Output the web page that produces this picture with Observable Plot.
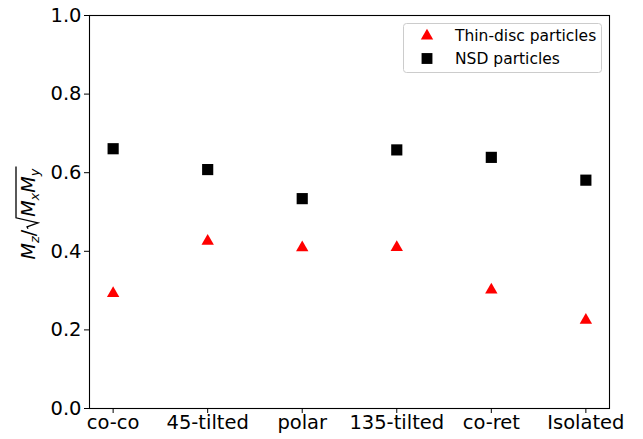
<!DOCTYPE html>
<html>
<head>
<meta charset="utf-8">
<script src="https://cdn.jsdelivr.net/npm/d3@7"></script>
<script src="https://cdn.jsdelivr.net/npm/@observablehq/plot@0.6"></script>
<style>
  html, body { margin: 0; padding: 0; background: white; }
  #wrap { position: relative; width: 643px; height: 439px; }
</style>
</head>
<body>
<div id="wrap"></div>
<script>
const categories = ["co-co", "45-tilted", "polar", "135-tilted", "co-ret", "Isolated"];
const thinDisc = [0.293, 0.426, 0.409, 0.410, 0.302, 0.225];
const nsd = [0.661, 0.608, 0.534, 0.658, 0.639, 0.581];
const yTicks = [0, 0.2, 0.4, 0.6, 0.8, 1.0];
const seriesNames = ["Thin-disc particles", "NSD particles"];

const thinData = categories.map((c, i) => ({cat: c, v: thinDisc[i]}));
const nsdData = categories.map((c, i) => ({cat: c, v: nsd[i]}));

const plot = Plot.plot({
  width: 643,
  height: 439,
  marginLeft: 89,
  marginRight: 34,
  marginTop: 15,
  marginBottom: 31,
  style: {fontFamily: "DejaVu Sans, sans-serif", fontSize: "19.5px", color: "black", background: "white"},
  x: {type: "point", domain: categories, padding: 0.25, round: false, label: null, tickSize: 5, tickPadding: 2},
  y: {domain: [0, 1], ticks: yTicks, tickFormat: ".1f", label: null, tickSize: 5, tickPadding: 3},
  marks: [
    Plot.frame({stroke: "black", strokeWidth: 1.1}),
    Plot.dot(thinData, {x: "cat", y: "v", symbol: "triangle", fill: "red", r: 4.6}),
    Plot.dot(nsdData, {x: "cat", y: "v", symbol: "square", fill: "black", r: 6.3})
  ]
});
const wrap = document.getElementById("wrap");
wrap.appendChild(plot);
const svg = d3.select(plot);

// y-axis label: M_z / sqrt(M_x M_y)
const fs = 19;
const g = svg.append("g").attr("transform", "translate(35,213) rotate(-90)")
  .attr("font-family", "DejaVu Sans, sans-serif").attr("font-size", fs).attr("fill", "black")
  .attr("text-anchor", "start");
const t1 = g.append("text").attr("y", 0);
t1.append("tspan").attr("font-style", "italic").text("M");
t1.append("tspan").attr("font-style", "italic").attr("font-size", 13).attr("dy", 4).text("z");
t1.append("tspan").attr("dy", -4).text("/");
const t2 = g.append("text").attr("y", 0);
t2.append("tspan").attr("font-style", "italic").text("M");
t2.append("tspan").attr("font-style", "italic").attr("font-size", 13).attr("dy", 4).text("x");
t2.append("tspan").attr("font-style", "italic").attr("dy", -4).text("M");
t2.append("tspan").attr("font-style", "italic").attr("font-size", 13).attr("dy", 4).text("y");
const w1 = t1.node().getComputedTextLength();
const wr = 13;
const w2 = t2.node().getComputedTextLength() + 2;
const total = w1 + wr + w2;
const x0 = -total / 2;
t1.attr("x", x0);
t2.attr("x", x0 + w1 + wr);
const ra = x0 + w1 + 1;
g.append("path")
  .attr("d", `M${ra},${-7} L${ra + 2},${-8} L${ra + 6},${3} L${ra + 11},${-fs} L${x0 + total},${-fs}`)
  .attr("fill", "none").attr("stroke", "black").attr("stroke-width", 1.3);

// legend inside the SVG
const lg = svg.append("g").attr("font-family", "DejaVu Sans, sans-serif").attr("font-size", 15.5)
  .attr("fill", "black").attr("text-anchor", "start");
lg.append("rect").attr("x", 403.5).attr("y", 23.5).attr("width", 198).attr("height", 49).attr("rx", 3)
  .attr("fill", "white").attr("fill-opacity", 0.8).attr("stroke", "#cccccc");
const symTri = d3.symbol(d3.symbolTriangle, 66)();
const symSq = d3.symbol(d3.symbolSquare, 118)();
const rows = [
  {name: seriesNames[0], cy: 36, path: symTri, fill: "red", base: 40.7},
  {name: seriesNames[1], cy: 58.5, path: symSq, fill: "black", base: 63.7}
];
rows.forEach(r => {
  lg.append("path").attr("d", r.path).attr("fill", r.fill).attr("transform", `translate(427,${r.cy})`);
  lg.append("text").attr("x", 455).attr("y", r.base).text(r.name);
});
</script>
</body>
</html>
